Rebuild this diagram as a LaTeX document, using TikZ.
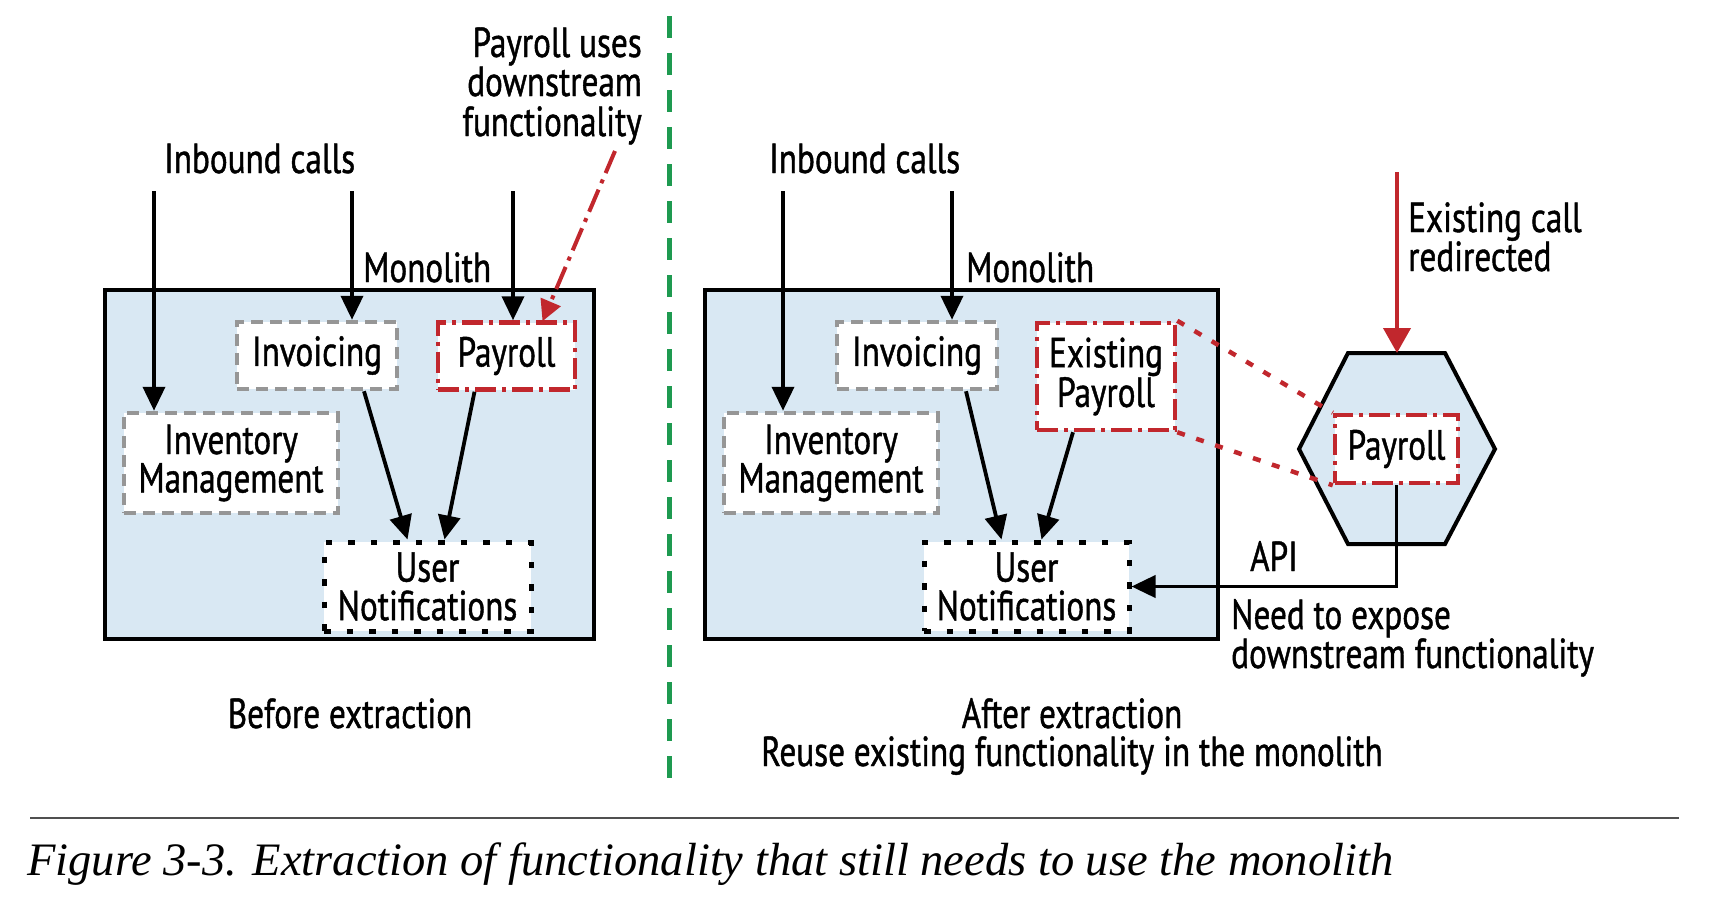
\documentclass[tikz,border=0pt]{standalone}
\usepackage{fontspec}
\usetikzlibrary{arrows.meta}
\newfontfamily\dfont{PT Sans}[FakeStretch=0.79,FakeBold=1]
\newfontfamily\cfont{Liberation Serif}
\definecolor{blueF}{RGB}{217,232,243}
\definecolor{redD}{RGB}{193,39,45}
\definecolor{grayD}{RGB}{150,150,150}
\definecolor{greenD}{RGB}{30,154,80}
\definecolor{capline}{RGB}{80,80,80}
\tikzset{
  dtext/.style={font=\dfont\fontsize{42}{38}\selectfont, inner sep=0pt},
  mono/.style={draw=black, line width=4pt, fill=blueF, rectangle, inner sep=0pt},
  svcbox/.style={rectangle, fill=white, inner sep=0pt, align=center,
     font=\dfont\fontsize{42}{38.5}\selectfont},
  graybox/.style={svcbox, draw=grayD, line width=4.5pt, dash pattern=on 12pt off 7pt},
  redbox/.style={svcbox, draw=redD, line width=4.5pt, dash pattern=on 21pt off 6pt on 4pt off 6pt},
  dotbox/.style={svcbox, draw=black, line width=5pt, dash pattern=on 6.5pt off 16pt},
  arr/.style={draw=black, line width=3.8pt, -{Triangle[length=24pt,width=22pt]}},
  redarr/.style={draw=redD, line width=4pt, -{Triangle[length=25pt,width=27pt]}},
  reddash/.style={draw=redD, line width=4pt, dash pattern=on 24pt off 7pt on 4pt off 7pt, -{Triangle[length=21pt,width=21pt]}},
  reddot/.style={draw=redD, line width=4.5pt, dash pattern=on 8pt off 12pt},
}
\begin{document}
\begin{tikzpicture}[x=1pt,y=-1pt]
\useasboundingbox (0,0) rectangle (1714,918);
% divider
\coordinate (g1) at (669,16);
\coordinate (g2) at (669,790);
\draw[greenD, line width=5pt, dash pattern=on 22pt off 15pt] (g1) -- (g2);

% ---------- left panel ----------
\node[mono, minimum width=489pt, minimum height=349pt] (mono1) at (349.5,464.5) {};
\node[dtext, anchor=base west] (monol1) at (363,282) {Monolith};
\node[dtext, anchor=base west] (inb1) at (164,173) {Inbound calls};
\node[graybox, minimum width=160pt, minimum height=67pt] (inv1) at (317,355.5) {Invoicing};
\node[redbox, minimum width=137pt, minimum height=67pt] (pay1) at (506.5,356) {Payroll};
\node[graybox, minimum width=214pt, minimum height=100pt] (invm1) at (231,463) {Inventory\\Management};
\node[dotbox, minimum width=207pt, minimum height=89pt] (un1) at (427.5,586.5) {User\\Notifications};
\coordinate (a1) at (154,191);
\coordinate (a2) at (352,191);
\coordinate (a3) at (513,191);
\draw[arr] (a1) -- (a1 |- invm1.north);
\draw[arr] (a2) -- (a2 |- inv1.north);
\draw[arr] (a3) -- (a3 |- pay1.north);
\draw[arr] ([xshift=47pt]inv1.south) -- ([xshift=-20pt]un1.north);
\draw[arr] ([xshift=-32pt]pay1.south) -- ([xshift=17pt]un1.north);
\node[dtext, anchor=base east] (pu1) at (642,57) {Payroll uses};
\node[dtext, anchor=base east] (pu2) at (642,96) {downstream};
\node[dtext, anchor=base east] (pu3) at (642,136) {functionality};
\coordinate (rd1) at (615,151);
\draw[reddash] (rd1) -- ([xshift=36pt,yshift=-1pt]pay1.north);
\node[dtext, anchor=base] (before) at (350,728) {Before extraction};

% ---------- right panel ----------
\node[mono, minimum width=513pt, minimum height=349pt] (mono2) at (961.5,464.5) {};
\node[dtext, anchor=base west] (monol2) at (966,282) {Monolith};
\node[dtext, anchor=base west] (inb2) at (769,173) {Inbound calls};
\node[graybox, minimum width=160pt, minimum height=67pt] (inv2) at (917,355.5) {Invoicing};
\node[redbox, minimum width=138pt, minimum height=107pt] (ep2) at (1106,376.5) {Existing\\Payroll};
\node[graybox, minimum width=214pt, minimum height=100pt] (invm2) at (831,463) {Inventory\\Management};
\node[dotbox, minimum width=205pt, minimum height=89pt] (un2) at (1026.5,586.5) {User\\Notifications};
\coordinate (b1) at (783,191);
\coordinate (b2) at (952,191);
\draw[arr] (b1) -- (b1 |- invm2.north);
\draw[arr] (b2) -- (b2 |- inv2.north);
\draw[arr] ([xshift=49pt]inv2.south) -- ([xshift=-25pt]un2.north);
\draw[arr] ([xshift=-33pt]ep2.south) -- ([xshift=15pt]un2.north);

% hexagon service
\coordinate (h1) at (1348,353);
\coordinate (h2) at (1445,353);
\coordinate (h3) at (1495,449);
\coordinate (h4) at (1445,544);
\coordinate (h5) at (1348,544);
\coordinate (h6) at (1299,449);
\coordinate (htop) at (1397,353);
\draw[black, line width=4pt, fill=blueF, line join=miter] (h1) -- (h2) -- (h3) -- (h4) -- (h5) -- (h6) -- cycle;
\node[redbox, minimum width=123pt, minimum height=68pt] (pay2) at (1396.5,449) {Payroll};
\draw[reddot] (ep2.north east) -- (pay2.north west);
\draw[reddot] (ep2.south east) -- (pay2.south west);
\coordinate (rc) at (1397,172);
\draw[redarr] (rc) -- (htop);
\node[dtext, anchor=base west] (ec1) at (1408,232) {Existing call};
\node[dtext, anchor=base west] (ec2) at (1408,271) {redirected};
\draw[arr] (pay2.south) |- (un2.east);
\node[dtext, anchor=base west] (api) at (1250,571) {API};
\node[dtext, anchor=base west] (ne1) at (1231,629) {Need to expose};
\node[dtext, anchor=base west] (ne2) at (1231,668) {downstream functionality};
\node[dtext, anchor=base] (after1) at (1072,728) {After extraction};
\node[dtext, anchor=base] (after2) at (1072,766) {Reuse existing functionality in the monolith};

% caption
\coordinate (c1) at (30,818);
\coordinate (c2) at (1679,818);
\draw[capline, line width=2pt] (c1) -- (c2);
\node[anchor=base west, inner sep=0pt, font=\cfont\itshape\fontsize{46.5}{50}\selectfont] (cap) at (27,875) {Figure 3-3. Extraction of functionality that still needs to use the monolith};
\end{tikzpicture}
\end{document}
